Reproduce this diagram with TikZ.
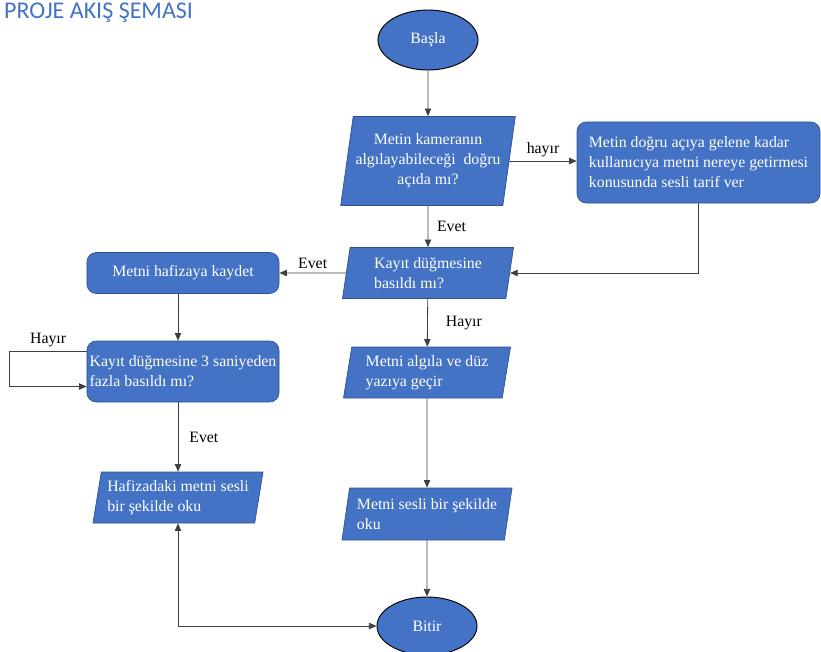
\documentclass[tikz,border=0pt]{standalone}
\usepackage{fontspec}
\setmainfont{Liberation Serif}
\newfontfamily\titlefont{Carlito}
\usetikzlibrary{arrows.meta,positioning,calc,shapes.geometric}
\definecolor{boxblue}{RGB}{68,114,196}
\definecolor{rimblue}{RGB}{47,82,143}

\begin{document}
\begin{tikzpicture}[
    x=0.03cm, y=-0.03cm,
    every node/.style={font=\fontsize{13.5}{17}\selectfont},
    terminal/.style={ellipse, draw=black, line width=0.8pt, fill=boxblue, text=white, minimum width=3cm, minimum height=1.8cm},
    proc/.style={rectangle, rounded corners=8pt, draw=rimblue, line width=0.6pt, fill=boxblue, text=white, align=left, inner xsep=2pt},
    io/.style={trapezium, trapezium left angle=78, trapezium right angle=102, trapezium stretches body, draw=rimblue, line width=0.6pt, fill=boxblue, text=white, align=left, inner sep=2pt},
    wire/.style={line width=0.7pt, draw=black!75, -{Triangle[length=6.5pt,width=5.5pt]}},
    lbl/.style={text=black}
  ]
  \useasboundingbox (0,0) rectangle (821,651);

  \node[anchor=west, font=\titlefont\fontsize{20.5}{24}\selectfont, text=boxblue, inner sep=0pt] (title) at (4,13) {PROJE AKIŞ ŞEMASI};

  \node[terminal] (start) at (428,40) {Başla};
  \node[io, align=center, minimum width=5.13cm, minimum height=2.67cm] (angle) at (428,161) {Metin kameranın\\algılayabileceği~ doğru\\açıda mı?};
  \node[proc, minimum width=7.29cm, minimum height=2.43cm] (guide) at (698.5,162.5) {Metin doğru açıya gelene kadar\\kullanıcıya metni nereye getirmesi\\konusunda sesli tarif ver};
  \node[io, minimum width=5.13cm, minimum height=1.53cm] (press) at (428,273) {Kayıt düğmesine\\basıldı mı?};
  \node[proc, minimum width=5.76cm, minimum height=1.23cm] (save) at (183,273) {Metni hafizaya kaydet};
  \node[proc, minimum width=5.76cm, minimum height=1.83cm] (hold) at (183,371.5) {Kayıt düğmesine 3 saniyeden\\fazla basıldı mı?};
  \node[io, minimum width=5.1cm, minimum height=1.53cm] (readmem) at (178,497.5) {Hafizadaki metni sesli\\bir şekilde oku};
  \node[io, minimum width=5.01cm, minimum height=1.53cm] (convert) at (427,372.5) {Metni algıla ve düz\\yazıya geçir};
  \node[io, minimum width=5.1cm, minimum height=1.56cm] (speak) at (427,514) {Metni sesli bir şekilde\\oku};
  \node[terminal, minimum height=1.74cm] (stop) at (427,626) {Bitir};

  \draw[wire] (start) -- (angle);
  \draw[wire] (angle.east) -- node[lbl, above]{hayır} (angle.east -| guide.west);
  \draw[wire] (guide.south) |- (press.east);
  \draw[wire] (angle) -- node[lbl, right=4pt]{Evet} (press);
  \draw[wire] (press.west) -- node[lbl, above]{Evet} (save.east);
  \draw[wire] (save.south -| readmem.north) -- (hold.north -| readmem.north);
  \draw[wire] ($(hold.west)+(0,-20)$) -- ++(-77,0) node[lbl, midway, above]{Hayır} |- ($(hold.west)+(0,15)$);
  \draw[wire] (hold.south -| readmem.north) -- node[lbl, right=6pt]{Evet} (readmem.north);
  \draw[wire] (press) -- node[lbl, right=12pt]{Hayır} (convert);
  \draw[wire] (convert) -- (speak);
  \draw[wire] (speak) -- (stop);
  \draw[wire, {Triangle[length=6.5pt,width=5.5pt]}-{Triangle[length=6.5pt,width=5.5pt]}] (readmem.south) |- (stop.west);
\end{tikzpicture}
\end{document}
